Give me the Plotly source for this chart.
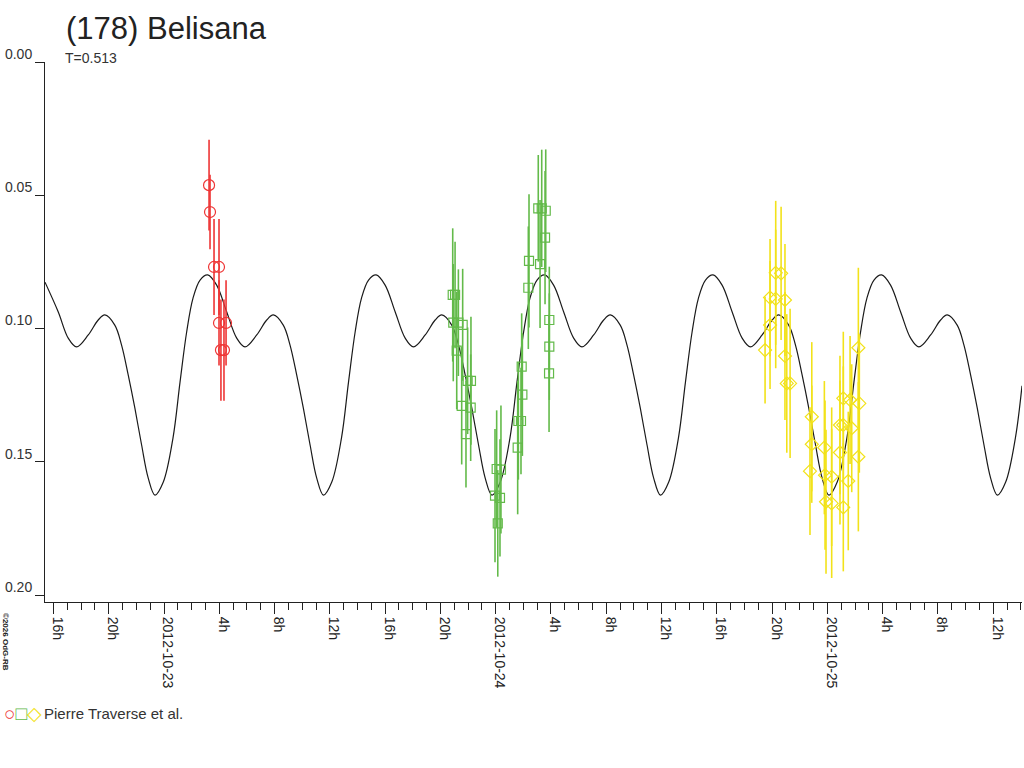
"""
Lightcurve of (178) Belisana, 2012-10-22 .. 2012-10-25
"""
import pandas as pd
import plotly.graph_objects as go

BASE = pd.Timestamp("2012-10-23 00:00")  # hours below count from here

# fitted lightcurve (hours, relative mag)
curve_h = [
    -8.61, -7.65, -6.93, -6.33, -5.48, -4.76, -4.28, -3.56, -3.07, -2.59, -2.11, -1.62, -1.14,
    -0.65, -0.05, 0.65, 1.16, 1.64, 2.10, 2.61, 3.16, 3.81, 4.54, 5.26, 5.86, 6.71, 7.43, 7.91, 8.63, 9.12, 9.60, 10.08, 10.57, 11.05,
    11.54, 12.14, 12.84, 13.35, 13.83, 14.29, 14.80, 15.35, 16.00, 16.73, 17.45, 18.05, 18.90, 19.62, 20.10, 20.82, 21.31, 21.79, 22.27, 22.76, 23.24,
    23.73, 24.33, 25.03, 25.54, 26.02, 26.48, 26.99, 27.54, 28.19, 28.92, 29.64, 30.24, 31.09, 31.81, 32.29, 33.01, 33.50, 33.98, 34.46, 34.95, 35.43,
    35.92, 36.52, 37.22, 37.73, 38.21, 38.67, 39.18, 39.73, 40.38, 41.11, 41.83, 42.43, 43.28, 44.00, 44.48, 45.20, 45.69, 46.17, 46.65, 47.14, 47.62,
    48.11, 48.71, 49.41, 49.92, 50.40, 50.86, 51.37, 51.92, 52.57, 53.30, 54.02, 54.62, 55.47, 56.19, 56.67, 57.39, 57.88, 58.36, 58.84, 59.33, 59.81,
    60.30, 60.90, 61.60, 62.08,
]
curve_mag = [
    0.0826, 0.0938, 0.1036, 0.1069, 0.1024, 0.0968, 0.0949, 0.0987, 0.1062, 0.1174, 0.1298, 0.1437, 0.1561,
    0.1625, 0.1576, 0.1411, 0.1201, 0.1013, 0.0886, 0.0818, 0.0799, 0.0837, 0.0938, 0.1036, 0.1069, 0.1024, 0.0968, 0.0949, 0.0987, 0.1062, 0.1174, 0.1298, 0.1437, 0.1561,
    0.1625, 0.1576, 0.1411, 0.1201, 0.1013, 0.0886, 0.0818, 0.0799, 0.0837, 0.0938, 0.1036, 0.1069, 0.1024, 0.0968, 0.0949, 0.0987, 0.1062, 0.1174, 0.1298, 0.1437, 0.1561,
    0.1625, 0.1576, 0.1411, 0.1201, 0.1013, 0.0886, 0.0818, 0.0799, 0.0837, 0.0938, 0.1036, 0.1069, 0.1024, 0.0968, 0.0949, 0.0987, 0.1062, 0.1174, 0.1298, 0.1437, 0.1561,
    0.1625, 0.1576, 0.1411, 0.1201, 0.1013, 0.0886, 0.0818, 0.0799, 0.0837, 0.0938, 0.1036, 0.1069, 0.1024, 0.0968, 0.0949, 0.0987, 0.1062, 0.1174, 0.1298, 0.1437, 0.1561,
    0.1625, 0.1576, 0.1411, 0.1201, 0.1013, 0.0886, 0.0818, 0.0799, 0.0837, 0.0938, 0.1036, 0.1069, 0.1024, 0.0968, 0.0949, 0.0987, 0.1062, 0.1174, 0.1298, 0.1437, 0.1561,
    0.1625, 0.1576, 0.1411, 0.1215,
]

# night 1 (red circles)
red_h = [3.26, 3.33, 3.62, 3.98, 3.98, 4.49, 4.12, 4.34]
red_mag = [0.0462, 0.0563, 0.0769, 0.0769, 0.0979, 0.0979, 0.1081, 0.1081]
red_err = [0.017, 0.014, 0.018, 0.018, 0.016, 0.016, 0.019, 0.019]

# night 2 (green squares)
green_h = [20.89, 21.06, 20.93, 21.30, 21.61, 21.18, 21.97, 22.21, 21.54, 22.19, 21.85,
           24.07, 24.38, 23.95, 24.31, 24.15, 25.59, 25.64, 25.83, 25.93, 25.88,
           26.36, 26.41, 27.21, 27.08, 27.33, 27.62, 27.57, 27.88, 27.88, 27.86]
green_mag = [0.0874, 0.0874, 0.0978, 0.0978, 0.0986, 0.1083, 0.1196, 0.1196, 0.1290, 0.1297, 0.1396,
             0.1527, 0.1529, 0.1627, 0.1635, 0.1731, 0.1447, 0.1347, 0.1347, 0.1248, 0.1143,
             0.0847, 0.0746, 0.0758, 0.0549, 0.0549, 0.0558, 0.0659, 0.0968, 0.1068, 0.1168]
green_err = [0.025, 0.020, 0.022, 0.020, 0.021, 0.022, 0.020, 0.024, 0.022, 0.020, 0.020,
             0.022, 0.024, 0.025, 0.022, 0.020, 0.025, 0.022, 0.020, 0.023, 0.020,
             0.023, 0.025, 0.024, 0.020, 0.022, 0.023, 0.025, 0.020, 0.020, 0.022]

# night 3 (yellow diamonds)
yellow_h = [43.49, 43.85, 43.85, 44.26, 44.93, 44.26, 44.65, 44.93, 45.06, 45.30,
            46.87, 46.87, 46.74, 47.78, 47.83, 48.31, 47.90, 48.31, 49.15, 49.64,
            48.91, 49.15, 49.76, 48.91, 49.51, 49.15, 50.24, 50.31, 50.24]
yellow_mag = [0.1081, 0.0987, 0.0884, 0.0889, 0.0893, 0.0791, 0.0793, 0.1103, 0.1206, 0.1206,
              0.1331, 0.1434, 0.1535, 0.1447, 0.1550, 0.1556, 0.1650, 0.1656, 0.1262, 0.1268,
              0.1362, 0.1362, 0.1374, 0.1465, 0.1572, 0.1671, 0.1072, 0.1281, 0.1481]
yellow_err = [0.020, 0.024, 0.022, 0.026, 0.021, 0.027, 0.025, 0.024, 0.026, 0.028,
              0.028, 0.022, 0.024, 0.025, 0.028, 0.026, 0.027, 0.028, 0.025, 0.024,
              0.026, 0.022, 0.024, 0.027, 0.026, 0.024, 0.030, 0.026, 0.028]

tick_h = list(range(-8, 64, 4))
tick_text = ["16h", "20h", "2012-10-23", "4h", "8h", "12h",
             "16h", "20h", "2012-10-24", "4h", "8h", "12h",
             "16h", "20h", "2012-10-25", "4h", "8h", "12h"]

L, R, T, B = 45, 2, 62, 166   # margins in px
W, H = 1024, 768


def to_time(hours):
    return BASE + pd.to_timedelta(hours, unit="h")


def px(x):
    return (x - L) / (W - L - R)


def py(y):
    return (H - B - y) / (H - T - B)


fig = go.Figure()

fig.add_trace(go.Scatter(
    x=to_time(curve_h), y=curve_mag, mode="lines",
    line=dict(color="#1a1a1a", width=1.2, shape="spline", smoothing=1.0),
    showlegend=False, hoverinfo="skip",
))

for hrs, mags, errs, col, sym, size in [
    (red_h, red_mag, red_err, "#ee3535", "circle-open", 11),
    (green_h, green_mag, green_err, "#63ba4a", "square-open", 9),
    (yellow_h, yellow_mag, yellow_err, "#f2e21a", "diamond-open", 10),
]:
    fig.add_trace(go.Scatter(
        x=to_time(hrs), y=mags, mode="markers",
        marker=dict(symbol=sym, size=size, color=col, line=dict(width=1.2, color=col)),
        error_y=dict(type="data", array=errs, color=col, thickness=1.6, width=0),
        showlegend=False,
    ))

fig.update_layout(
    width=W, height=H,
    margin=dict(l=L, r=R, t=T, b=B),
    paper_bgcolor="white", plot_bgcolor="white",
    font=dict(family="Liberation Sans, Arial, sans-serif", color="#333", size=13),
    xaxis=dict(
        range=[to_time(-8.61), to_time(62.08)],
        tickvals=to_time(tick_h), ticktext=tick_text, tickangle=90,
        ticks="outside", ticklen=11, tickcolor="#222", tickwidth=1,
        showline=True, linecolor="#222", linewidth=1,
        showgrid=False, zeroline=False, automargin=False,
        tickfont=dict(size=14, color="#222"),
        ticklabelshift=4,
        minor=dict(dtick=3600000, ticks="outside", ticklen=7, tickcolor="#222", showgrid=False),
    ),
    yaxis=dict(
        range=[0.2026, 0.0],
        tickvals=[0.0, 0.05, 0.10, 0.15, 0.20],
        ticktext=["0.00", "0.05", "0.10", "0.15", "0.20"],
        ticks="outside", ticklen=9, tickcolor="#222",
        showline=True, linecolor="#222", linewidth=1,
        showgrid=False, zeroline=False, automargin=False,
        tickfont=dict(size=14, color="#333"),
        ticklabelshift=8,
    ),
    annotations=[
        dict(text="(178) Belisana", x=px(64), y=py(28), xref="paper", yref="paper",
             showarrow=False, xanchor="left", yanchor="middle",
             font=dict(size=31, color="#222")),
        dict(text="T=0.513", x=px(63), y=py(58), xref="paper", yref="paper",
             showarrow=False, xanchor="left", yanchor="middle",
             font=dict(size=14, color="#333")),
        dict(text='<span style="color:#ee3535">○</span>'
                  '<span style="color:#63ba4a">□</span>'
                  '<span style="color:#f2e21a">◇</span>',
             x=px(2), y=py(713), xref="paper", yref="paper",
             showarrow=False, xanchor="left", yanchor="middle",
             font=dict(size=19, color="#333")),
        dict(text="Pierre Traverse et al.", x=px(42), y=py(713), xref="paper", yref="paper",
             showarrow=False, xanchor="left", yanchor="middle",
             font=dict(size=15, color="#333")),
        dict(text="<b>©2026 OdG-RB</b>", x=px(5), y=py(642), xref="paper", yref="paper",
             textangle=90, showarrow=False, xanchor="center", yanchor="middle",
             font=dict(size=8, color="#222")),
    ],
)

fig.write_html("out.html", config={"displayModeBar": False},
               post_script="document.body.style.margin='0';")
